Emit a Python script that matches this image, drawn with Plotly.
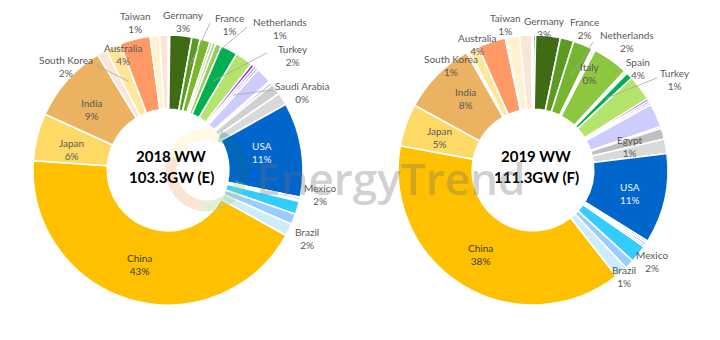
import math
import plotly.graph_objects as go

# ---------------- DATA (shares in %, clockwise from 12 o'clock) ----------------
names_2018 = ["Other-1", "Germany", "France", "Other-2", "Other-3", "Other-4", "Netherlands",
              "Turkey", "Other-5", "Other-6", "Other-7", "Saudi Arabia", "Other-8", "Other-9",
              "Other-10", "Other-11", "Other-12", "USA", "Other-13", "Other-14", "Mexico",
              "Other-15", "Brazil", "China", "Japan", "India", "Other-16", "South Korea",
              "Australia", "Taiwan", "Other-17"]
values_2018 = [0.2, 2.6, 1.0, 1.2, 0.3, 0.4, 0.7,
               2.0, 2.1, 0.4, 0.3, 0.3, 1.9, 0.2,
               0.3, 1.3, 1.5, 11.2, 0.3, 0.2, 1.55,
               1.25, 1.45, 42.5, 5.6, 9.4, 1.1, 1.8,
               3.6, 1.1, 1.0]
shown_pct_2018 = {"Taiwan": 1, "Germany": 3, "France": 1, "Netherlands": 1, "Turkey": 2,
                  "Saudi Arabia": 0, "USA": 11, "Mexico": 2, "Brazil": 2, "China": 43,
                  "Japan": 6, "India": 9, "South Korea": 2, "Australia": 4}

names_2019 = ["Other-1", "Germany", "France", "Netherlands", "Other-2", "Other-3", "Spain",
              "Italy", "Other-4", "Turkey", "Other-5", "Other-6", "Other-7", "Other-8",
              "Other-9", "Other-10", "Egypt", "Other-11", "USA", "Other-12", "Other-13",
              "Other-14", "Mexico", "Other-15", "Brazil", "China", "Japan", "India",
              "Other-16", "South Korea", "Australia", "Other-17", "Taiwan", "Other-18", "Other-19"]
values_2019 = [0.3, 2.9, 1.6, 2.3, 0.2, 0.2, 4.2,
               0.2, 0.15, 0.8, 3.0, 0.3, 0.25, 0.25,
               2.8, 0.2, 1.3, 1.7, 10.6, 0.3, 0.25,
               0.25, 2.1, 1.1, 1.5, 37.8, 5.0, 8.7,
               0.3, 1.2, 3.3, 0.2, 1.5, 1.4, 0.15]
shown_pct_2019 = {"Taiwan": 1, "Germany": 3, "France": 2, "Netherlands": 2, "Italy": 0,
                  "Spain": 4, "Turkey": 1, "Egypt": 1, "USA": 11, "Mexico": 2, "Brazil": 1,
                  "China": 38, "Japan": 5, "India": 8, "South Korea": 1, "Australia": 4}

titles = [("2018 WW", "103.3GW (E)"), ("2019 WW", "111.3GW (F)")]

# ---------------- STYLE ----------------
colors_2018 = ["#A6A6A6", "#3E6B13", "#5B9B21", "#7AB72E", "#8DC63F", "#A9D18E", "#92D050",
               "#00B050", "#B4E46C", "#9933FF", "#6666FF", "#9999FF", "#CCCCFF", "#808080",
               "#A6A6A6", "#D0D0D0", "#D9D9D9", "#0066CC", "#BDD7EE", "#4472C4", "#33CCFF",
               "#99CCFF", "#CCECFF", "#FFC000", "#FFD966", "#EBB262", "#FBE5D6", "#FFE699",
               "#FF9966", "#FFF2CC", "#FBE5D6"]
colors_2019 = ["#548235", "#3E6B13", "#5B9B21", "#76B52F", "#3E6B13", "#A9D18E", "#8DC63F",
               "#A6A6A6", "#C5E0B4", "#00B050", "#B4E46C", "#9933FF", "#6666FF", "#9999FF",
               "#CCCCFF", "#808080", "#BFBFBF", "#D9D9D9", "#0066CC", "#BDD7EE", "#4472C4",
               "#8FAADC", "#33CCFF", "#99CCFF", "#CCECFF", "#FFC000", "#FFD966", "#EBB262",
               "#FBE5D6", "#FFE699", "#FF9966", "#3E6B13", "#FFF2CC", "#FBE5D6", "#70AD47"]

W, H = 720, 340
# pie centers / radius in px
pies = [dict(cx=168, cy=170, R=135), dict(cx=533, cy=170, R=135)]

# label placement: name -> (angle deg clockwise from top, radius fraction, leader)
# leader = (start offset px from label centre, end radius fraction at slice middle)
label_pos_2018 = {
    "Taiwan": (347.4, 1.123, None),
    "Germany": (5.8, 1.102, None),
    "France": (22.7, 1.172, ((-19, -1), 0.80)),
    "Netherlands": (38.3, 1.340, ((-33, -1), 0.92)),
    "Turkey": (47.6, 1.253, ((-26, -3), 0.74)),
    "Saudi Arabia": (60.1, 1.145, ((-29, -3), 0.74)),
    "USA": (79.7, 0.708, None),
    "Mexico": (99.0, 1.140, None),
    "Brazil": (116.1, 1.146, None),
    "China": (196.6, 0.727, None),
    "Japan": (281.8, 0.727, None),
    "India": (308.7, 0.722, None),
    "South Korea": (315.3, 1.074, ((30, -2), 0.72)),
    "Australia": (338.6, 0.915, None),
}
label_pos_2019 = {
    "Taiwan": (349.1, 1.094, None),
    "Germany": (4.8, 1.056, None),
    "France": (20.2, 1.113, None),
    "Netherlands": (36.1, 1.182, ((-34, 1), 0.75)),
    "Italy": (30.4, 0.833, None),
    "Spain": (46.1, 1.079, None),
    "Turkey": (57.6, 1.245, ((-18, -2), 0.76)),
    "Egypt": (76.1, 0.740, None),
    "USA": (103.9, 0.740, None),
    "Mexico": (127.7, 1.114, None),
    "Brazil": (139.6, 1.040, None),
    "China": (212.2, 0.736, None),
    "Japan": (289.5, 0.731, None),
    "India": (316.6, 0.733, None),
    "South Korea": (322.0, 0.987, None),
    "Australia": (336.0, 1.021, None),
}

LABEL_FONT = "Lato"
LABEL_COLOR = "#595959"


def px_to_paper(x, y):
    return x / W, 1 - y / H


def polar_px(p, ang, rf):
    a = math.radians(ang)
    return p["cx"] + rf * p["R"] * math.sin(a), p["cy"] - rf * p["R"] * math.cos(a)


def text_ann(x, y, text, font):
    return dict(x=x, y=y, xref="paper", yref="paper", showarrow=False, text=text,
                xanchor="center", yanchor="middle", align="center", font=font)


fig = go.Figure()
annotations = []
shapes = []

datasets = [(names_2018, values_2018, colors_2018, shown_pct_2018, label_pos_2018),
            (names_2019, values_2019, colors_2019, shown_pct_2019, label_pos_2019)]

for i, (names, vals, cols, shown, lpos) in enumerate(datasets):
    p = pies[i]
    x0, y0 = px_to_paper(p["cx"] - p["R"], p["cy"] + p["R"])
    x1, y1 = px_to_paper(p["cx"] + p["R"], p["cy"] - p["R"])
    fig.add_trace(go.Pie(
        labels=names, values=vals, sort=False, direction="clockwise", rotation=0,
        hole=0.45, textinfo="none", hoverinfo="label+percent",
        marker=dict(colors=cols, line=dict(color="white", width=1.6)),
        domain=dict(x=[x0, x1], y=[y0, y1]),
    ))
    total = sum(vals)
    cum = 0
    mids = {}
    for n, v in zip(names, vals):
        mids[n] = (cum + v / 2) / total * 360
        cum += v
    for n, (ang, rf, leader) in lpos.items():
        lx, ly = polar_px(p, ang, rf)
        col = LABEL_COLOR
        if n == "USA":
            col = "#F2F2F2"
        elif n == "China":
            col = "#3A3A3A"
        ax, ay = px_to_paper(lx, ly)
        annotations.append(text_ann(ax, ay, f"{n}<br>{shown[n]}%",
                                    dict(family=LABEL_FONT, size=10, color=col)))
        if leader:
            (ox, oy), erf = leader
            sx, sy = px_to_paper(lx + ox, ly + oy)
            exx, eyy = polar_px(p, mids[n], erf)
            ex, ey = px_to_paper(exx, eyy)
            shapes.append(dict(type="line", xref="paper", yref="paper", x0=sx, y0=sy, x1=ex, y1=ey,
                               line=dict(color="#A6A6A6", width=0.8)))
    t1, t2 = titles[i]
    for txt, dy in ((t1, -14), (t2, 7)):
        tx, ty = px_to_paper(p["cx"] + 3, p["cy"] + dy)
        annotations.append(text_ann(tx, ty, f"<b>{txt}</b>",
                                    dict(family="Lato", size=15, color="#000000")))


# watermark logo ring (decoration)
def arc_path(cx, cy, r, a0, a1, n=30):
    pts = []
    for k in range(n + 1):
        a = math.radians(a0 + (a1 - a0) * k / n)
        x, y = px_to_paper(cx + r * math.sin(a), cy - r * math.cos(a))
        pts.append(f"{x:.5f},{y:.5f}")
    return "M" + " L".join(pts)


for a0, a1, c in ((190, 290, "rgba(244,177,131,0.35)"),
                  (110, 190, "rgba(169,209,142,0.35)"),
                  (20, 110, "rgba(0,110,110,0.25)"),
                  (290, 380, "rgba(255,230,153,0.25)")):
    shapes.append(dict(type="path", xref="paper", yref="paper", path=arc_path(207, 170, 36, a0, a1),
                       line=dict(color=c, width=11)))

wx, wy = px_to_paper(390, 178)
annotations.append(text_ann(wx, wy, "EnergyTrend",
                            dict(family="Open Sans", size=44, weight=600,
                                 color="rgba(110,110,110,0.33)")))

fig.update_layout(width=W, height=H, margin=dict(l=0, r=0, t=0, b=0),
                  paper_bgcolor="white", plot_bgcolor="white", showlegend=False,
                  annotations=annotations, shapes=shapes)
fig.write_html("out.html")
